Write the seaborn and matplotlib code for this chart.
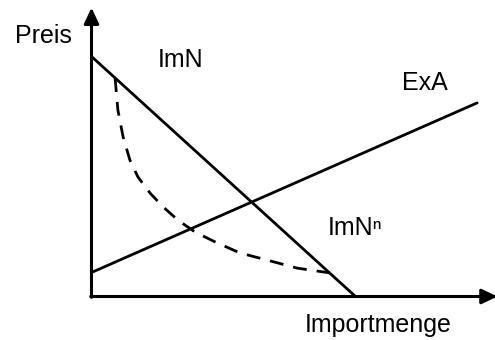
import pandas as pd
import matplotlib.pyplot as plt
import seaborn as sns

# Curve data (schematic units, origin at the axis corner)
imn_x = [0.0, 6.6]
imn_y = [6.0, 0.0]
exa_x = [0.0, 9.64]
exa_y = [0.6, 4.84]
imn_n_x = [0.59, 0.66, 0.79, 0.96, 1.16, 1.46, 1.79, 2.16, 2.59, 3.14, 3.71, 4.39, 5.14, 5.96]
imn_n_y = [5.46, 4.66, 3.99, 3.41, 2.99, 2.59, 2.24, 1.91, 1.61, 1.34, 1.09, 0.91, 0.71, 0.59]

sns.set_style('white')
plt.rcParams['font.family'] = ['Liberation Sans', 'DejaVu Sans']
plt.rcParams['text.color'] = 'black'

fig = plt.figure(figsize=(4.95, 3.4), dpi=100)
ax = fig.add_axes([0, 0, 1, 1])
ax.set_xlim(-2.2875, 10.0875)
ax.set_ylim(-1.0875, 7.4125)
ax.axis('off')

imn = pd.DataFrame({'x': imn_x, 'y': imn_y})
exa = pd.DataFrame({'x': exa_x, 'y': exa_y})
imn_n = pd.DataFrame({'x': imn_n_x, 'y': imn_n_y})

sns.lineplot(x='x', y='y', data=imn, color='black', lw=2.0, sort=False, ax=ax)
sns.lineplot(x='x', y='y', data=exa, color='black', lw=2.0, sort=False, ax=ax)
sns.lineplot(x='x', y='y', data=imn_n, color='black', lw=2.0, sort=False, ax=ax)
ax.lines[-1].set_dashes([5.0, 3.6])  # dashed net import demand

# Axes with arrow heads
arrow = dict(arrowstyle='-|>,head_length=0.95,head_width=0.45', lw=2.2,
             color='black', mutation_scale=10, shrinkA=0, shrinkB=0)
ax.annotate('', xy=(0, 7.22), xytext=(0, -0.02), arrowprops=arrow,
            annotation_clip=False)
ax.annotate('', xy=(10.15, 0), xytext=(-0.02, 0), arrowprops=arrow,
            annotation_clip=False)

fs = 18
ax.text(-1.91, 6.34, 'Preis', fontsize=fs, color='black', ha='left', va='baseline')
ax.text(1.66, 5.74, 'ImN', fontsize=fs, color='black', ha='left', va='baseline')
ax.text(7.76, 5.16, 'ExA', fontsize=fs, color='black', ha='left', va='baseline')
ax.text(5.91, 1.54, 'ImN\u207f', fontsize=fs, color='black', ha='left', va='baseline')
ax.text(5.34, -0.89, 'Importmenge', fontsize=fs, color='black', ha='left', va='baseline')

fig.savefig('out.png', dpi=100)
